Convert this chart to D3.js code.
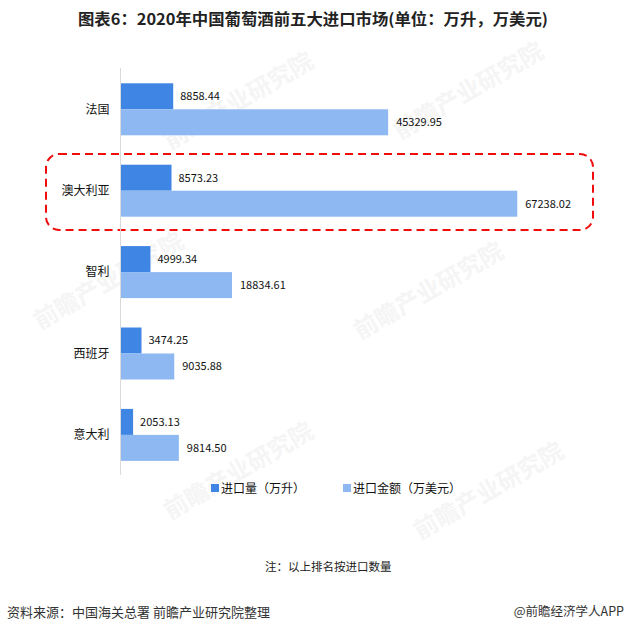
<!DOCTYPE html>
<html><head><meta charset="utf-8">
<script src="https://cdn.jsdelivr.net/npm/d3@7/dist/d3.min.js"></script>
<style>body{margin:0;background:#fff}svg{display:block}</style>
</head><body>
<script>
const categories = ["法国","澳大利亚","智利","西班牙","意大利"];
const volume = [8858.44, 8573.23, 4999.34, 3474.25, 2053.13];
const amount = [45329.95, 67238.02, 18834.61, 9035.88, 9814.50];
const volumeLabels = ["8858.44","8573.23","4999.34","3474.25","2053.13"];
const amountLabels = ["45329.95","67238.02","18834.61","9035.88","9814.50"];
const seriesNames = ["进口量（万升）","进口金额（万美元）"];
const colors = ["#3F85E3","#8EB8F2"];

const W = 628, H = 634;
const font = "'Noto Sans CJK SC','Microsoft YaHei',sans-serif";
const svg = d3.select("body").append("svg").attr("width", W).attr("height", H)
  .style("font-family", font);

// faint watermarks (kept inside the canvas)
const wm = [[170,150],[400,140],[40,330],[360,340],[170,520],[420,540]];
wm.forEach(([x,y])=>{
  svg.append("text").attr("x",x).attr("y",y).attr("transform",`rotate(-30,${x},${y})`)
    .attr("font-size",24).attr("font-weight","bold").attr("fill","#f5f5f5").text("前瞻产业研究院");
});

// title
svg.append("text").attr("x", 78).attr("y", 25).attr("font-size", 15.5).attr("font-weight","bold")
  .attr("fill","#222").attr("textLength", 470).attr("lengthAdjust","spacingAndGlyphs")
  .text("图表6：2020年中国葡萄酒前五大进口市场(单位：万升，万美元)");

const x = d3.scaleLinear().domain([0, 75000]).range([121, 563]);
const y = d3.scaleBand().domain(categories).range([68.6, 475.6]);
const bh = 26;

// highlight box
svg.append("rect").attr("x", 46).attr("y", 154).attr("width", 547).attr("height", 76)
  .attr("rx", 13).attr("fill","none").attr("stroke","#F20D0D").attr("stroke-width",2)
  .attr("stroke-dasharray","8,5");

// axis line
svg.append("line").attr("x1",120.5).attr("x2",120.5).attr("y1",68).attr("y2",475)
  .attr("stroke","#d9d9d9").attr("stroke-width",1);

const g = svg.append("g");
categories.forEach((c,i)=>{
  const cy = y(c) + y.bandwidth()/2;
  g.append("rect").attr("x", x(0)).attr("y", cy - bh).attr("width", x(volume[i]) - x(0)).attr("height", bh).attr("fill", colors[0]);
  g.append("rect").attr("x", x(0)).attr("y", cy).attr("width", x(amount[i]) - x(0)).attr("height", bh).attr("fill", colors[1]);
  g.append("text").attr("x", x(volume[i]) + 7).attr("y", cy - bh/2).attr("dy","0.35em")
    .attr("font-size", 11).attr("fill","#111").text(volumeLabels[i]);
  g.append("text").attr("x", x(amount[i]) + 8).attr("y", cy + bh/2).attr("dy","0.35em")
    .attr("font-size", 11).attr("fill","#111").text(amountLabels[i]);
  g.append("text").attr("x", 109.5).attr("y", cy).attr("dy","0.35em").attr("text-anchor","end")
    .attr("font-size", 12).attr("fill","#111").text(c);
});

// legend
const lx = [211, 343];
seriesNames.forEach((n,i)=>{
  svg.append("rect").attr("x", lx[i]).attr("y", 484).attr("width", 8).attr("height", 8).attr("fill", colors[i]);
  svg.append("text").attr("x", lx[i] + 10).attr("y", 488.5).attr("dy","0.35em")
    .attr("font-size", 12).attr("fill","#111").text(n);
});

// note & source
svg.append("text").attr("x", 265).attr("y", 567).attr("dy","0.35em").attr("font-size", 11.5)
  .attr("fill","#222").text("注：以上排名按进口数量");
svg.append("text").attr("x", 7).attr("y", 612).attr("dy","0.35em").attr("font-size", 13)
  .attr("fill","#333").text("资料来源：中国海关总署 前瞻产业研究院整理");
svg.append("text").attr("x", 624).attr("y", 612).attr("dy","0.35em").attr("font-size", 12.5)
  .attr("text-anchor","end").attr("fill","#333").text("@前瞻经济学人APP");
</script>
</body></html>
